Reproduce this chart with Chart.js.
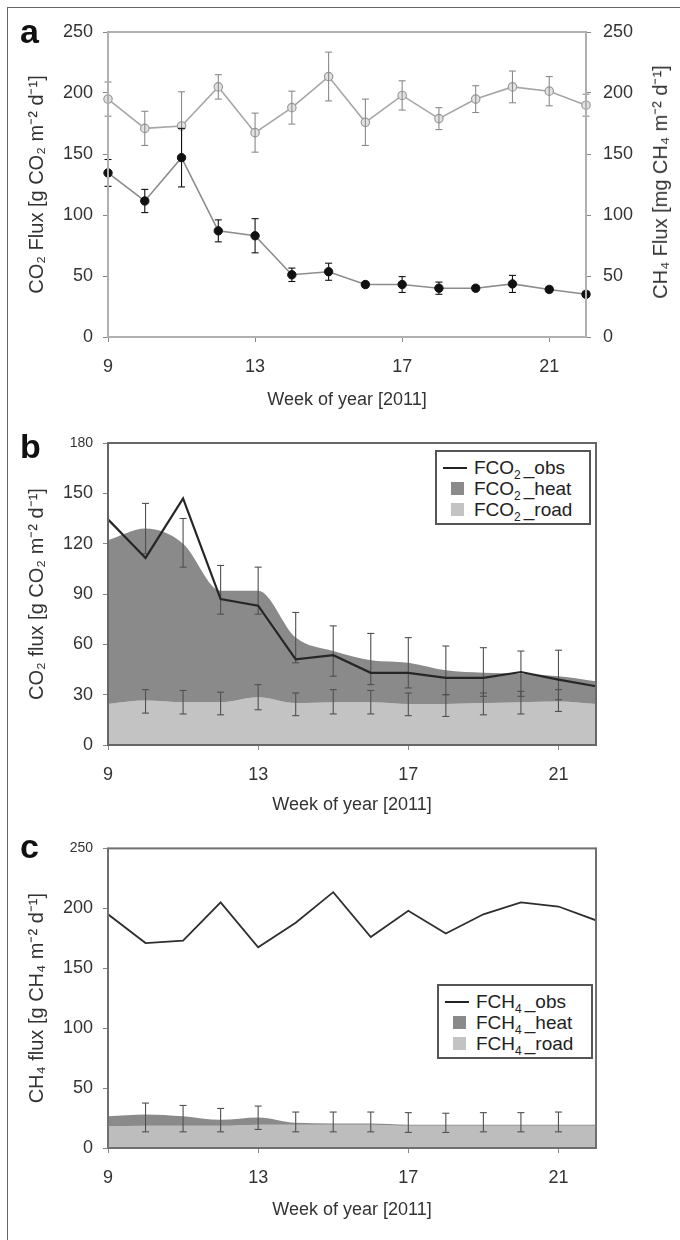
<!DOCTYPE html>
<html><head><meta charset="utf-8">
<script src="https://cdn.jsdelivr.net/npm/chart.js@4.4.1/dist/chart.umd.min.js"></script>
<style>
html,body{margin:0;padding:0;background:#fff;}
body{width:680px;height:1240px;position:relative;overflow:hidden;font-family:"Liberation Sans",Arial,sans-serif;}
canvas{position:absolute;left:0;}
.frame{position:absolute;left:7px;top:7px;width:720px;height:1300px;border-top:1.5px solid #666;border-left:1.5px solid #666;}
.letter{position:absolute;left:20px;font-weight:bold;font-size:34px;line-height:34px;color:#111;}
.rtitle{position:absolute;left:660px;top:182px;transform:translate(-50%,-50%) rotate(-90deg);white-space:nowrap;font-size:20px;line-height:22px;color:#333;}
.legend{position:absolute;border:2px solid #555;background:#fff;font-size:19px;color:#222;box-sizing:border-box;}
.row{position:absolute;left:0;width:100%;height:22px;line-height:22px;}
.row .txt{position:absolute;left:37px;top:0;white-space:nowrap;}
.row sub{font-size:12px;line-height:0;vertical-align:-5px;margin-right:3px;}
.sym{position:absolute;}
</style></head>
<body>
<div class="frame"></div>
<canvas id="ca" width="680" height="420" style="top:0px"></canvas>
<canvas id="cb" width="680" height="410" style="top:420px"></canvas>
<canvas id="cc" width="680" height="410" style="top:830px"></canvas>
<div class="letter" style="top:14px">a</div>
<div class="letter" style="top:429px">b</div>
<div class="letter" style="top:829px">c</div>
<div class="rtitle">CH₄ Flux [mg CH₄ m⁻² d⁻¹]</div>

<div class="legend" style="left:435px;top:450px;width:156px;height:75px">
  <div class="row" style="top:5px"><span class="sym" style="left:6px;top:10px;width:24px;height:2px;background:#222"></span><span class="txt">FCO<sub>2</sub>_obs</span></div>
  <div class="row" style="top:26px"><span class="sym" style="left:14px;top:4px;width:13px;height:13px;background:#8a8a8a"></span><span class="txt">FCO<sub>2</sub>_heat</span></div>
  <div class="row" style="top:47px"><span class="sym" style="left:14px;top:4px;width:13px;height:13px;background:#c3c3c3"></span><span class="txt">FCO<sub>2</sub>_road</span></div>
</div>
<div class="legend" style="left:437px;top:984px;width:156px;height:75px">
  <div class="row" style="top:5px"><span class="sym" style="left:6px;top:10px;width:24px;height:2px;background:#222"></span><span class="txt">FCH<sub>4</sub>_obs</span></div>
  <div class="row" style="top:26px"><span class="sym" style="left:14px;top:4px;width:13px;height:13px;background:#8a8a8a"></span><span class="txt">FCH<sub>4</sub>_heat</span></div>
  <div class="row" style="top:47px"><span class="sym" style="left:14px;top:4px;width:13px;height:13px;background:#c3c3c3"></span><span class="txt">FCH<sub>4</sub>_road</span></div>
</div>

<script>
// ---------- data ----------
const weeks = [9,10,11,12,13,14,15,16,17,18,19,20,21,22];
const xTickValues = [9,13,17,21];

// panel a (and observed lines in b, c)
const co2Flux = [134.5,111.5,147,87,83,51,53.5,43,43,40,40,43.5,39,35];
const co2Err  = [11,9.5,24,9,14,5.5,7,2,6.5,5,2,7,2,2];
const ch4Flux = [195,171,173,205,167.5,188,213.5,176,198,179,195,205,201.5,190];
const ch4Err  = [14,14,28,10,16,13.5,20,19,12,9,11,13,12,9];

// panel b
const co2HeatTop  = [122,129,120,92,92,64,56,50.5,49,44.5,43,42.5,41,38];
const co2Road     = [24.5,26.5,25.5,25.5,28.5,25,25.5,25.5,24.5,24.5,25,25.5,26,24.5];
const co2HeatErrHi = [null,144,135,107,106,79,71,66.5,64,59,58,56,56.5,null];
const co2HeatErrLo = [null,114,106,78,78,49,41,36,34,30,29,29,27,null];
const co2RoadErrHi = [null,33,32.5,31.5,36,31,33,32.5,31,30,31,32,33,null];
const co2RoadErrLo = [null,19,18.5,18,21,17.5,18.5,18.5,17.5,17,18,18.5,20,null];

// panel c
const ch4HeatTop = [26.5,28,26.5,23.5,25.5,21,20.5,20.5,19.5,19.5,19.5,19.5,19.5,19.5];
const ch4Road    = [18,18.5,18.5,18.5,19.5,19.5,19.5,19.5,18.5,18.5,18.5,18.5,18.5,18.5];
const ch4ErrHi   = [null,37.5,35.5,33,35,30,30,30,29.5,29,29.5,29.5,30,null];
const ch4ErrLo   = [null,13.5,13.5,13.5,15.5,13.5,13.5,13.5,13,13,13.5,13.5,13.5,null];

// tick labels
const yTicksA = [0,50,100,150,200,250];
const yTicksB = [0,30,60,90,120,150,180];
const yTicksC = [0,50,100,150,200,250];

// ---------- helpers ----------
Chart.defaults.font.family = '"Liberation Sans", Arial, sans-serif';
Chart.defaults.color = '#333';

function pts(vals){ return weeks.map((w,i)=>({x:w,y:vals[i]})); }
function errPts(lo,hi){
  const out=[];
  weeks.forEach((w,i)=>{ if(lo[i]==null||hi[i]==null) return; out.push({x:w,y:lo[i]},{x:w,y:hi[i]},{x:w,y:null}); });
  return out;
}
function errDataset(lo,hi,color,axis){
  return {data:errPts(lo,hi), borderColor:color, borderWidth:1.1, showLine:true, spanGaps:false,
    pointStyle:'line', pointRadius:3.5, pointBorderColor:color, pointBorderWidth:1.1, pointHoverRadius:0,
    fill:false, yAxisID:axis||'y', clip:false};
}
function framePlugin(color,width){
  return {id:'frame', afterDatasetsDraw(chart){
    const {ctx, chartArea:a}=chart; ctx.save(); ctx.strokeStyle=color; ctx.lineWidth=width;
    ctx.strokeRect(a.left,a.top,a.right-a.left,a.bottom-a.top); ctx.restore();
  }};
}
function xScale(h, titlePadBottom){
  return {type:'linear', min:9, max:22,
    afterBuildTicks: s=>{ s.ticks = xTickValues.map(v=>({value:v})); },
    afterFit: s=>{ s.height = h; },
    grid:{drawOnChartArea:false, tickLength:5, color:'#888', lineWidth:1},
    border:{display:false},
    ticks:{padding:14, font:{size:18}, color:'#333', maxRotation:0},
    title:{display:true, text:'Week of year [2011]', font:{size:18}, color:'#333', padding:{top:0,bottom:titlePadBottom}}};
}
function yScale(tickVals, titleText, position, width, smallTop){
  const mx = tickVals[tickVals.length-1];
  const s = {type:'linear', position:position, min:0, max:mx,
    afterBuildTicks: sc=>{ sc.ticks = tickVals.map(v=>({value:v})); },
    afterFit: sc=>{ sc.width = width; },
    grid:{drawOnChartArea:false, tickLength:5, color:'#888', lineWidth:1},
    border:{display:false},
    ticks:{padding: position==='left'?10:12, color:'#333',
      font: c=>({size: (smallTop && c.tick && c.tick.value===mx) ? 14 : 18})}};
  if(titleText){ s.title={display:true, text:titleText, font:{size:20}, color:'#333', padding:{top:25,bottom:0}}; }
  else { s.title={display:false}; }
  return s;
}
const baseOpts = {responsive:false, animation:false, devicePixelRatio:1,
  plugins:{legend:{display:false}, tooltip:{enabled:false}},
  events:[]};

// ---------- panel a ----------
new Chart(document.getElementById('ca'), {
  type:'line',
  data:{datasets:[
    errDataset(co2Flux.map((v,i)=>v-co2Err[i]), co2Flux.map((v,i)=>v+co2Err[i]), '#111','y'),
    {data:pts(co2Flux), borderColor:'#8c8c8c', borderWidth:1.6, pointRadius:4.2, pointBackgroundColor:'#111',
     pointBorderColor:'#111', pointBorderWidth:1, yAxisID:'y', fill:false, clip:false},
    errDataset(ch4Flux.map((v,i)=>v-ch4Err[i]), ch4Flux.map((v,i)=>v+ch4Err[i]), '#8a8a8a','y1'),
    {data:pts(ch4Flux), borderColor:'#a6a6a6', borderWidth:1.6, pointRadius:4.2, pointBackgroundColor:'#e2e2e2',
     pointBorderColor:'#9a9a9a', pointBorderWidth:1.2, yAxisID:'y1', fill:false, clip:false}
  ]},
  options:Object.assign({}, baseOpts, {
    layout:{padding:{top:32,left:0,right:0,bottom:0}},
    scales:{
      x: xScale(83, 9),
      y: yScale(yTicksA, 'CO₂ Flux [g CO₂ m⁻² d⁻¹]', 'left', 108, false),
      y1: yScale(yTicksA, null, 'right', 94, false)
    }
  }),
  plugins:[framePlugin('#b0b0b0',2)]
});

// ---------- panel b ----------
new Chart(document.getElementById('cb'), {
  type:'line',
  data:{datasets:[
    {data:pts(co2Flux), borderColor:'#262626', borderWidth:2.2, pointRadius:0, fill:false},
    errDataset(co2HeatErrLo, co2HeatErrHi, '#505050'),
    errDataset(co2RoadErrLo, co2RoadErrHi, '#505050'),
    {data:pts(co2HeatTop), borderWidth:0, borderColor:'#8a8a8a', backgroundColor:'#8a8a8a', pointRadius:0,
     cubicInterpolationMode:'monotone', fill:4},
    {data:pts(co2Road), borderWidth:0, borderColor:'#c3c3c3', backgroundColor:'#c3c3c3', pointRadius:0,
     cubicInterpolationMode:'monotone', fill:'origin'}
  ]},
  options:Object.assign({}, baseOpts, {
    layout:{padding:{top:23,left:0,right:84,bottom:0}},
    scales:{
      x: xScale(85, 14),
      y: yScale(yTicksB, 'CO₂ flux [g CO₂ m⁻² d⁻¹]', 'left', 108, true)
    }
  }),
  plugins:[framePlugin('#666',2)]
});

// ---------- panel c ----------
new Chart(document.getElementById('cc'), {
  type:'line',
  data:{datasets:[
    {data:pts(ch4Flux), borderColor:'#2e2e2e', borderWidth:1.8, pointRadius:0, fill:false},
    errDataset(ch4ErrLo, ch4ErrHi, '#505050'),
    {data:pts(ch4HeatTop), borderWidth:0, borderColor:'#8a8a8a', backgroundColor:'#8a8a8a', pointRadius:0,
     cubicInterpolationMode:'monotone', fill:3},
    {data:pts(ch4Road), borderWidth:0, borderColor:'#bdbdbd', backgroundColor:'#bdbdbd', pointRadius:0,
     cubicInterpolationMode:'monotone', fill:'origin'}
  ]},
  options:Object.assign({}, baseOpts, {
    layout:{padding:{top:17,left:0,right:84,bottom:0}},
    scales:{
      x: xScale(92, 19),
      y: yScale(yTicksC, 'CH₄ flux [g CH₄ m⁻² d⁻¹]', 'left', 108, true)
    }
  }),
  plugins:[framePlugin('#707070',2)]
});
</script>
</body></html>
